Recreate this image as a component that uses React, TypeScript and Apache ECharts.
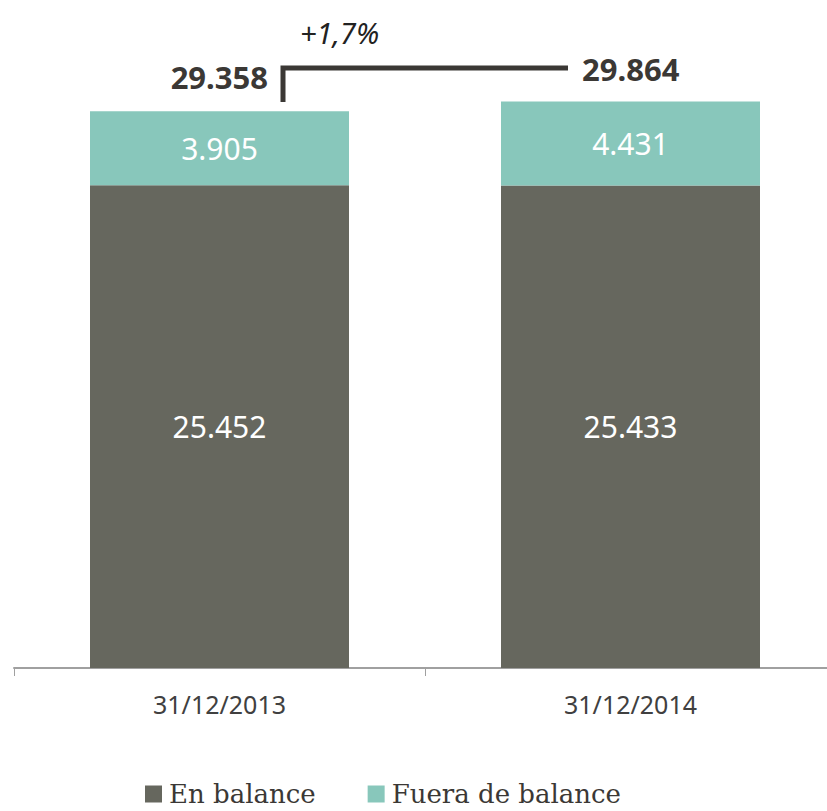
import React, { useEffect, useRef } from "react";
import * as echarts from "echarts";

const categories = ["31/12/2013", "31/12/2014"];
const enBalance = [25452, 25433];
const fueraBalance = [3905, 4431];
const totals = [29358, 29864];
const seriesNames = ["En balance", "Fuera de balance"];

const DARK = "#66675E";
const TEAL = "#88C7BB";
const TEXT = "#3B3835";

const fmt = (n: number) => String(Math.round(n)).replace(/\B(?=(\d{3})+(?!\d))/g, ".");

export default function App() {
  const ref = useRef<HTMLDivElement>(null);
  useEffect(() => {
    if (!ref.current) return;
    const chart = echarts.init(ref.current, null, { renderer: "svg" });
    const pct = ((totals[1] / totals[0] - 1) * 100).toFixed(1).replace(".", ",");
    chart.setOption({
      animation: false,
      grid: { left: 14, width: 822, top: 99, bottom: 143, containLabel: false },
      legend: {
        left: 145,
        top: 781,
        padding: 0,
        itemWidth: 17,
        itemHeight: 17,
        itemGap: 52,
        icon: "rect",
        textStyle: { fontFamily: "DejaVu Serif", fontSize: 26, color: TEXT, padding: [0, 0, 0, 2] },
        data: seriesNames,
      },
      xAxis: {
        type: "category",
        data: categories,
        axisLine: { lineStyle: { color: "#A0A0A0", width: 2 } },
        axisTick: { show: true, length: 8, lineStyle: { color: "#A0A0A0", width: 1 } },
        axisLabel: { fontFamily: "Noto Sans", fontSize: 25, color: "#404040", margin: 23 },
      },
      yAxis: { type: "value", min: 0, max: 30000, show: false, splitLine: { show: false } },
      series: [
        {
          name: seriesNames[0],
          type: "bar",
          stack: "total",
          barWidth: 259,
          data: enBalance,
          itemStyle: { color: DARK },
          label: {
            show: true,
            position: "inside",
            color: "#FFFFFF",
            fontFamily: "Noto Sans",
            fontSize: 30,
            formatter: (p: any) => fmt(p.value),
          },
        },
        {
          name: seriesNames[1],
          type: "bar",
          stack: "total",
          barWidth: 259,
          data: fueraBalance,
          itemStyle: { color: TEAL },
          label: {
            show: true,
            position: "inside",
            color: "#FFFFFF",
            fontFamily: "Noto Sans",
            fontSize: 30,
            formatter: (p: any) => fmt(p.value),
          },
        },
      ],
      graphic: [
        {
          type: "polyline",
          shape: { points: [[283, 102], [283, 68], [568, 68]] },
          style: { stroke: TEXT, lineWidth: 5, fill: "none" },
        },
        {
          type: "text",
          x: 268,
          y: 77,
          style: {
            text: fmt(totals[0]),
            align: "right",
            verticalAlign: "middle",
            fontFamily: "Noto Sans",
            fontWeight: "bold",
            fontSize: 31,
            fill: TEXT,
          },
        },
        {
          type: "text",
          x: 582,
          y: 69,
          style: {
            text: fmt(totals[1]),
            align: "left",
            verticalAlign: "middle",
            fontFamily: "Noto Sans",
            fontWeight: "bold",
            fontSize: 31,
            fill: TEXT,
          },
        },
        {
          type: "text",
          x: 300,
          y: 32,
          style: {
            text: "+" + pct + "%",
            align: "left",
            verticalAlign: "middle",
            fontFamily: "Noto Sans",
            fontStyle: "italic",
            fontSize: 29,
            fill: "#222222",
          },
        },
      ],
    });
    return () => chart.dispose();
  }, []);
  return (
    <div
      style={{
        position: "fixed",
        left: 0,
        top: 0,
        width: 827,
        height: 811,
        overflow: "hidden",
        background: "#fff",
      }}
    >
      <div ref={ref} style={{ width: 850, height: 811 }} />
    </div>
  );
}
